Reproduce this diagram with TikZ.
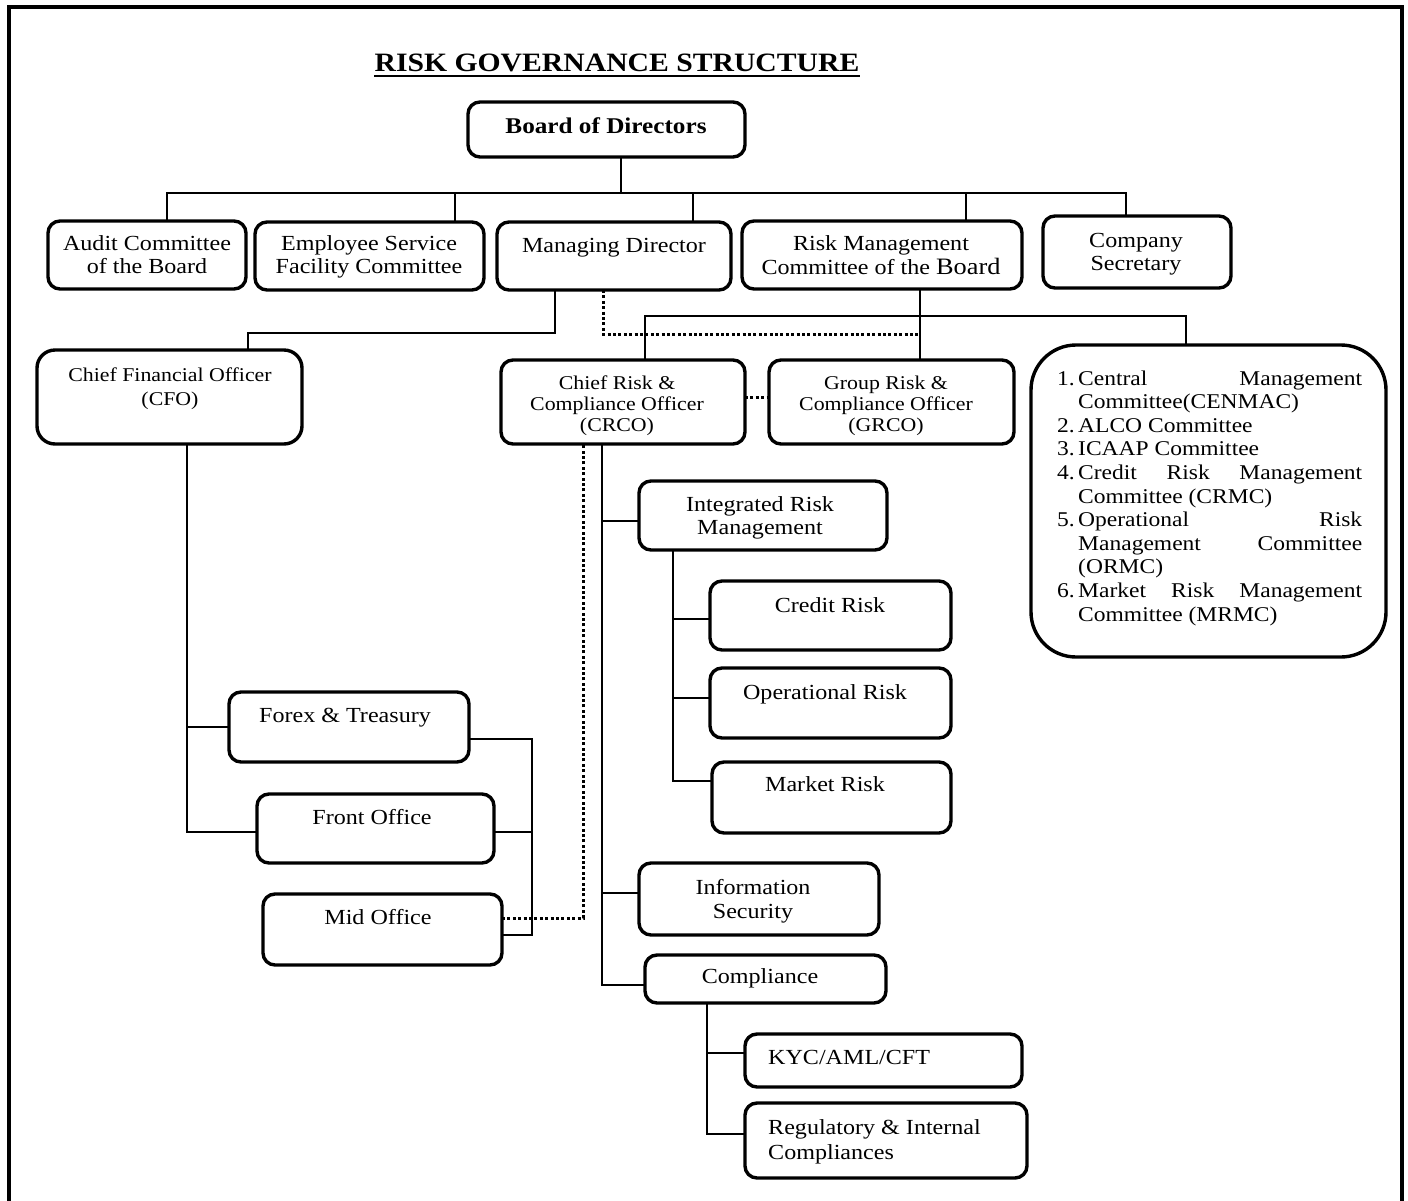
\documentclass[tikz,border=0pt]{standalone}
\usepackage{fontspec}
\setmainfont{Liberation Serif}[FakeStretch=1.12]
\newcommand\lstitem[2]{\hbox to 305pt{\hbox to 21pt{#1\hfil}#2\hfil}}
\newcommand\lstjust[2]{\hbox to 305pt{\hbox to 21pt{#1\hfil}\hbox to 284pt{#2}}}
\begin{document}
\begin{tikzpicture}[x=1pt,y=-1pt,
  box/.style={draw, line width=3.4pt, rounded corners=12pt, inner sep=0pt, outer sep=0pt},
  conn/.style={line width=2pt},
  dotln/.style={line width=3pt, dash pattern=on 3pt off 2.4pt},
  tx/.style={font=\fontsize{21.5}{24}\selectfont, inner sep=0pt, anchor=mid, yshift=-4pt},
  txs/.style={font=\fontsize{19.5}{21}\selectfont, inner sep=0pt, anchor=mid, yshift=-4pt},
  txl/.style={font=\fontsize{21.5}{24}\selectfont, inner sep=0pt, anchor=mid west, yshift=-4pt},
]
\useasboundingbox (0,0) rectangle (1408,1200);
\fill[white] (0,0) rectangle (1408,1200);
% frame
\draw[line width=4pt] (9,1210) -- (9,7) -- (1402,7) -- (1402,1210);

% title
\node[inner sep=0pt, anchor=base, font=\bfseries\fontsize{26.5}{28}\selectfont] (title) at (617,71) {RISK GOVERNANCE STRUCTURE};
\draw[line width=2.6pt] ([yshift=-5pt]title.base west) -- ([yshift=-5pt]title.base east);

% boxes
\node[box, minimum width=277pt, minimum height=55pt] (bod) at (606.5,129.5) {};
\node[box, minimum width=198pt, minimum height=68pt] (aud) at (147,255) {};
\node[box, minimum width=229pt, minimum height=68pt] (emp) at (369.5,256) {};
\node[box, minimum width=234pt, minimum height=68pt] (md) at (614,256) {};
\node[box, minimum width=280pt, minimum height=68pt] (rmc) at (882,255) {};
\node[box, minimum width=188pt, minimum height=72pt] (cs) at (1137,252) {};
\node[box, rounded corners=18pt, minimum width=265pt, minimum height=94pt] (cfo) at (169.5,397) {};
\node[box, minimum width=244pt, minimum height=84pt] (crco) at (623,402) {};
\node[box, minimum width=245pt, minimum height=84pt] (grco) at (891.5,402) {};
\node[box, rounded corners=45pt, minimum width=355pt, minimum height=312pt] (list) at (1208.5,501) {};
\node[box, minimum width=248pt, minimum height=69pt] (irm) at (763,515.5) {};
\node[box, minimum width=241pt, minimum height=69pt] (cr) at (830.5,615.5) {};
\node[box, minimum width=241pt, minimum height=70pt] (op) at (830.5,703) {};
\node[box, minimum width=239pt, minimum height=71pt] (mk) at (831.5,797.5) {};
\node[box, minimum width=240pt, minimum height=72pt] (is) at (759,899) {};
\node[box, minimum width=241pt, minimum height=48pt] (comp) at (765.5,979) {};
\node[box, minimum width=277pt, minimum height=53pt] (kyc) at (883.5,1060.5) {};
\node[box, minimum width=282pt, minimum height=75pt] (reg) at (886,1140.5) {};
\node[box, minimum width=240pt, minimum height=70pt] (fx) at (349,727) {};
\node[box, minimum width=237pt, minimum height=69pt] (fo) at (375.5,828.5) {};
\node[box, minimum width=239pt, minimum height=71pt] (mo) at (382.5,929.5) {};

% texts
\node[inner sep=0pt, anchor=mid, yshift=-4pt, font=\bfseries\fontsize{22.5}{24}\selectfont] (tbod) at (606,127) {Board of Directors};
\node[tx] (taud1) at (147,244) {Audit Committee};
\node[tx] (taud2) at (147,267) {of the Board};
\node[tx] (temp1) at (369,244) {Employee Service};
\node[tx] (temp2) at (369,267) {Facility Committee};
\node[tx] (tmd) at (614,246) {Managing Director};
\node[tx] (trmc1) at (881,244) {Risk Management};
\node[tx] (trmc2) at (881,268) {Committee of the {\fontsize{23.5}{24}\selectfont Board}};
\node[tx] (tcs1) at (1136,241) {Company};
\node[tx] (tcs2) at (1136,264) {Secretary};
\node[txs] (tcfo1) at (170,375) {Chief Financial Officer};
\node[txs] (tcfo2) at (170,399) {(CFO)};
\node[txs] (tcr1) at (617,383) {Chief Risk \&};
\node[txs] (tcr2) at (617,404) {Compliance Officer};
\node[txs] (tcr3) at (617,425) {(CRCO)};
\node[txs] (tgr1) at (886,383) {Group Risk \&};
\node[txs] (tgr2) at (886,404) {Compliance Officer};
\node[txs] (tgr3) at (886,425) {(GRCO)};
\node[tx] (tirm1) at (760,505) {Integrated Risk};
\node[tx] (tirm2) at (760,528) {Management};
\node[tx] (tcrr) at (830,606) {Credit Risk};
\node[tx] (topr) at (825,693) {Operational Risk};
\node[tx] (tmkr) at (825,785) {Market Risk};
\node[tx] (tis1) at (753,888) {Information};
\node[tx] (tis2) at (753,912) {Security};
\node[tx] (tcomp) at (760,977) {Compliance};
\node[txl] (tkyc) at (768,1058) {KYC/AML/CFT};
\node[txl] (treg1) at (768,1128) {Regulatory \& Internal};
\node[txl] (treg2) at (768,1153) {Compliances};
\node[tx] (tfx) at (345,716) {Forex \& Treasury};
\node[tx] (tfo) at (372,818) {Front Office};
\node[tx] (tmo) at (378,918) {Mid Office};

\node[inner sep=0pt, anchor=base west] (tlist) at (1057,385) {\parbox[t]{305pt}{\fontsize{21}{23.6}\selectfont
\lstjust{1.}{Central\hfill Management}
\lstitem{}{Committee(CENMAC)}
\lstitem{2.}{ALCO Committee}
\lstitem{3.}{ICAAP Committee}
\lstjust{4.}{Credit\hfill Risk\hfill Management}
\lstitem{}{Committee (CRMC)}
\lstjust{5.}{Operational\hfill Risk}
\lstjust{}{Management\hfill Committee}
\lstitem{}{(ORMC)}
\lstjust{6.}{Market\hfill Risk\hfill Management}
\lstitem{}{Committee (MRMC)}}};

% connectors: top level
\draw[conn] (bod.south -| 621,0) -- (621,193);
\draw[conn] (aud.north -| 167,0) -- (167,193) -- (1126,193) -- (cs.north -| 1126,0);
\draw[conn] (emp.north -| 455,0) -- (455,193);
\draw[conn] (md.north -| 693,0) -- (693,193);
\draw[conn] (rmc.north -| 966,0) -- (966,193);

% MD to CFO
\draw[conn] (md.south -| 555,0) -- (555,333) -- (248,333) -- (cfo.north -| 248,0);
% MD dotted
\coordinate (dj) at (920,334);
\draw[dotln] (md.south -| 603,0) -- (603,334) -- (dj);
% RMC
\draw[conn] (rmc.south -| 920,0) -- (grco.north -| 920,0);
\draw[conn] (crco.north -| 645,0) -- (645,316) -- (1186,316) -- (list.north -| 1186,0);
% CRCO - GRCO dotted
\draw[dotln] (crco.east |- 0,397) -- (grco.west |- 0,397);

% CFO branch
\draw[conn] (cfo.south -| 187,0) -- (187,832) -- (fo.west |- 0,832);
\draw[conn] (187,727) -- (fx.west |- 0,727);
% bracket
\draw[conn] (fx.east |- 0,739) -- (532,739) -- (532,935) -- (mo.east |- 0,935);
\draw[conn] (fo.east |- 0,832) -- (532,832);
% Mid office dotted to CRCO
\draw[dotln] (mo.east |- 0,918) -- (583,918) -- (crco.south -| 583,0);

% CRCO solid
\draw[conn] (crco.south -| 602,0) -- (602,985) -- (comp.west |- 0,985);
\draw[conn] (602,521) -- (irm.west |- 0,521);
\draw[conn] (602,893) -- (is.west |- 0,893);
% IRM
\draw[conn] (irm.south -| 673,0) -- (673,781) -- (mk.west |- 0,781);
\draw[conn] (673,619) -- (cr.west |- 0,619);
\draw[conn] (673,698) -- (op.west |- 0,698);
% Compliance
\draw[conn] (comp.south -| 707,0) -- (707,1134) -- (reg.west |- 0,1134);
\draw[conn] (707,1053) -- (kyc.west |- 0,1053);
\end{tikzpicture}
\end{document}
